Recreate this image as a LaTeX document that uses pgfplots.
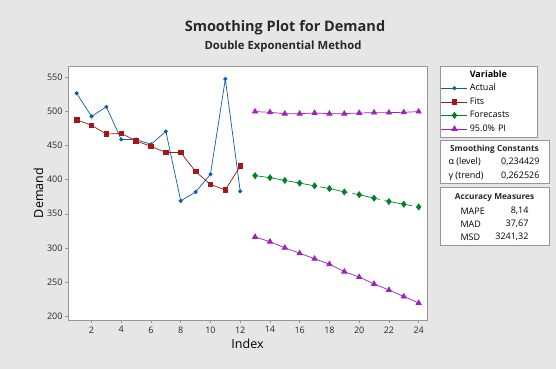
\documentclass[border=0pt]{standalone}
\usepackage{pgfplots}
\pgfplotsset{compat=1.18}
\usepackage{fontspec}
\setmainfont{Open Sans}
\definecolor{bgc}{RGB}{230,230,230}
\definecolor{actc}{RGB}{16,92,170}
\definecolor{fitc}{RGB}{160,24,24}
\definecolor{forc}{RGB}{0,128,40}
\definecolor{pic}{RGB}{160,32,190}
\definecolor{axc}{RGB}{150,150,150}
\definecolor{txc}{RGB}{40,40,40}
\begin{document}
\begin{tikzpicture}
\fill[bgc] (0pt,0pt) rectangle (556pt,369pt);
\useasboundingbox (0pt,0pt) rectangle (556pt,369pt);
\node[font=\bfseries\fontsize{14.5}{16}\selectfont, text=txc] at (285pt,341pt) {Smoothing Plot for Demand};
\node[font=\bfseries\fontsize{11.3}{13}\selectfont, text=txc] at (283pt,322pt) {Double Exponential Method};
\begin{axis}[
  at={(68pt,49pt)}, anchor=south west,
  scale only axis, width=359pt, height=254pt,
  xmin=0.42, xmax=24.56, ymin=194, ymax=567,
  xtick={2,4,...,24}, ytick={200,250,...,550},
  axis background/.style={fill=white},
  axis line style={axc},
  tick align=outside, major tick length=3pt,
  tick style={axc, line width=0.5pt},
  xtick pos=bottom, ytick pos=left,
  ticklabel style={font=\fontsize{9}{10}\selectfont, text=txc},
  yticklabel style={xshift=1pt},
  /pgf/number format/assume math mode=true,
  xlabel={Index}, ylabel={Demand},
  label style={font=\fontsize{12.5}{14}\selectfont, text=black},
  xlabel style={yshift=1pt},
  ylabel style={yshift=-3pt},
  legend style={at={(1.036,1)}, anchor=north west, draw=axc, fill=white,
    font=\fontsize{9}{10}\selectfont, row sep=1.5pt, inner xsep=1pt, inner ysep=2pt,
    cells={anchor=west, text width=64pt}},
  legend cell align=left,
  legend image code/.code={
    \draw[mark repeat=2,mark phase=2,#1] plot coordinates {(0pt,0pt) (13pt,0pt) (26pt,0pt)};},
]
\addlegendimage{empty legend}
\addlegendentry{\textbf{Variable}}
\addplot[color=actc, line width=0.7pt, mark=*, mark size=1.7pt, mark options={fill=actc}] coordinates {
(1,527) (2,493) (3,507) (4,459) (5,459) (6,452) (7,471) (8,369) (9,382) (10,408) (11,548) (12,383)};
\addlegendentry{Actual}
\addplot[color=fitc, line width=0.7pt, mark=square*, mark size=2.3pt, mark options={fill=fitc}] coordinates {
(1,488) (2,480) (3,467) (4,468) (5,457) (6,449) (7,440) (8,440) (9,412) (10,393) (11,385) (12,420)};
\addlegendentry{Fits}
\addplot[color=forc, line width=0.7pt, dash pattern=on 28pt off 5pt, mark=diamond*, mark size=3pt, mark options={solid, fill=forc}] coordinates {
(13,406) (14,403) (15,399) (16,395) (17,391) (18,387) (19,382) (20,378) (21,373) (22,368) (23,364) (24,360)};
\addlegendentry{Forecasts}
\addplot[color=pic, line width=0.7pt, mark=triangle*, mark size=3pt, mark options={fill=pic}] coordinates {
(13,500) (14,499) (15,497) (16,497) (17,498) (18,497) (19,497) (20,498) (21,498.5) (22,498.5) (23,499) (24,500)};
\addlegendentry{95.0\% PI}
\addplot[color=pic, line width=0.7pt, mark=triangle*, mark size=3pt, mark options={fill=pic}, forget plot] coordinates {
(13,316) (14,309) (15,300) (16,292) (17,284) (18,276) (19,265) (20,257) (21,247) (22,238) (23,228.5) (24,219)};
\end{axis}
% Smoothing constants box
\draw[axc, fill=white] (440pt,186pt) rectangle (549pt,229pt);
\node[font=\bfseries\fontsize{8.3}{9}\selectfont, text=txc] at (494.5pt,219.5pt) {Smoothing Constants};
\node[font=\fontsize{9}{10}\selectfont, text=black, anchor=west] at (445pt,207pt) {α (level)};
\node[font=\fontsize{9}{10}\selectfont, text=black, anchor=east] at (543pt,207pt) {0,234429};
\node[font=\fontsize{9}{10}\selectfont, text=black, anchor=west] at (445pt,193pt) {γ (trend)};
\node[font=\fontsize{9}{10}\selectfont, text=black, anchor=east] at (543pt,193pt) {0,262526};
% Accuracy measures box
\draw[axc, fill=white] (440pt,124pt) rectangle (549pt,182pt);
\node[font=\bfseries\fontsize{8.3}{9}\selectfont, text=txc] at (494.5pt,171pt) {Accuracy Measures};
\node[font=\fontsize{9}{10}\selectfont, text=black, anchor=west] at (457pt,158pt) {MAPE};
\node[font=\fontsize{9}{10}\selectfont, text=black, anchor=east] at (532pt,158pt) {8,14};
\node[font=\fontsize{9}{10}\selectfont, text=black, anchor=west] at (457pt,145pt) {MAD};
\node[font=\fontsize{9}{10}\selectfont, text=black, anchor=east] at (532pt,145pt) {37,67};
\node[font=\fontsize{9}{10}\selectfont, text=black, anchor=west] at (457pt,132pt) {MSD};
\node[font=\fontsize{9}{10}\selectfont, text=black, anchor=east] at (532pt,132pt) {3241,32};
\end{tikzpicture}
\end{document}
